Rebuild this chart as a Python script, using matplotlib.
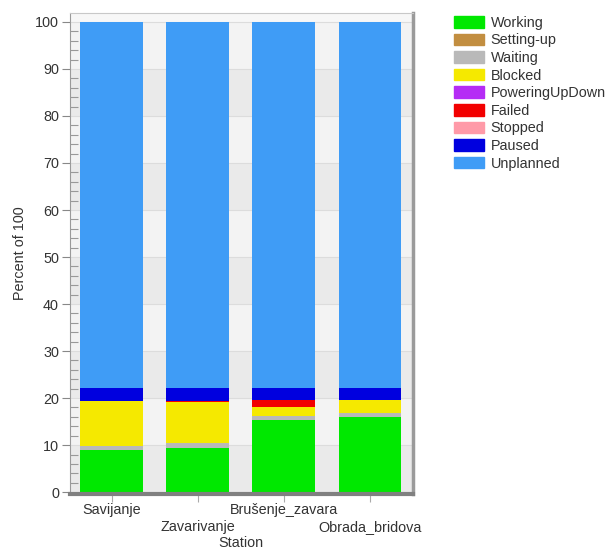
import matplotlib
matplotlib.use("Agg")
import matplotlib.pyplot as plt
from matplotlib.patches import Patch
from matplotlib.transforms import blended_transform_factory
import numpy as np

stations = ["Savijanje", "Zavarivanje", "Brušenje_zavara", "Obrada_bridova"]
states = ["Working", "Setting-up", "Waiting", "Blocked", "PoweringUpDown",
          "Failed", "Stopped", "Paused", "Unplanned"]
colors = ["#00E800", "#C28E40", "#B9B9B9", "#F5E900", "#B52CF5",
          "#F20000", "#FF9AA8", "#0000DF", "#3F9CF6"]

working        = [8.9, 9.4, 15.3, 16.0]
setting_up     = [0.0, 0.0, 0.0, 0.0]
waiting        = [0.9, 1.0, 0.9, 0.9]
blocked        = [9.6, 8.7, 1.8, 2.7]
powering       = [0.0, 0.0, 0.0, 0.0]
failed         = [0.0, 0.2, 1.6, 0.0]
stopped        = [0.0, 0.0, 0.0, 0.0]
paused         = [2.7, 2.8, 2.5, 2.5]
unplanned      = [77.9, 77.9, 77.9, 77.9]

series = [working, setting_up, waiting, blocked, powering, failed, stopped, paused, unplanned]

plt.rcParams['font.family'] = ['Liberation Sans', 'DejaVu Sans']
FS = 10.4
TC = "#333333"

fig = plt.figure(figsize=(6.07, 5.49), dpi=100)
ax = fig.add_axes([70/607, 1-494/549, (413-70)/607, (494-13)/549])

ax.set_xlim(-0.483, 3.5)
ax.set_ylim(-0.4, 101.9)

# background bands
for k in range(10):
    c = "#F3F3F3" if k % 2 == 1 else "#EAEAEA"
    ax.axhspan(k*10, k*10+10, color=c, zorder=0, lw=0)
ax.axhspan(100, 101.9, color="#F7F7F7", zorder=0, lw=0)
ax.set_facecolor("#F3F3F3")
for k in range(1, 11):
    ax.axhline(k*10, color="#DCDCDC", lw=0.8, zorder=0.5)

x = np.arange(len(stations))
bottom = np.zeros(len(stations))
for vals, col in zip(series, colors):
    v = np.array(vals)
    ax.bar(x, v, width=0.73, bottom=bottom, color=col, lw=0, zorder=2)
    bottom += v

ax.set_yticks(np.arange(0, 101, 10))
ax.set_yticks(np.arange(0, 101, 2), minor=True)
ax.tick_params(axis='y', which='major', direction='out', length=6, color="#888888",
               labelsize=FS, labelcolor=TC, width=0.8, pad=2)
ax.tick_params(axis='y', which='minor', direction='in', length=6, color="#999999", width=0.8)

ax.set_xticks(x)
ax.set_xticklabels([])
ax.tick_params(axis='x', which='major', direction='out', length=6, color="#AAAAAA")

trans = blended_transform_factory(ax.transData, fig.transFigure)
for i, s in enumerate(stations):
    ypix = 510 if i % 2 == 0 else 527
    ax.text(x[i], 1 - ypix/549, s, transform=trans, ha='center', va='center',
            fontsize=FS, color=TC, clip_on=False)

for s in ax.spines.values():
    s.set_color("#C8C8C8")
    s.set_linewidth(0.8)
ax.spines['bottom'].set_color("#808080")
ax.spines['bottom'].set_linewidth(3)
ax.spines['right'].set_color("#9A9A9A")
ax.spines['right'].set_linewidth(2.5)
ax.spines['left'].set_color("#9A9A9A")

fig.text(241/607, 1 - 543/549, "Station", ha='center', va='center', fontsize=FS, color=TC)
fig.text(20/607, 1 - 253/549, "Percent of 100", ha='center', va='center',
         rotation=90, fontsize=FS, color=TC)

handles = [Patch(facecolor=c, edgecolor=c) for c in colors]
fig.legend(handles, states, loc='upper left', bbox_to_anchor=(448/607, 1-10/549),
           frameon=False, fontsize=FS, handlelength=2.1, handleheight=0.85,
           labelspacing=0.25, handletextpad=0.45, borderaxespad=0, labelcolor=TC)

fig.savefig("out.png", dpi=100, facecolor="white")
